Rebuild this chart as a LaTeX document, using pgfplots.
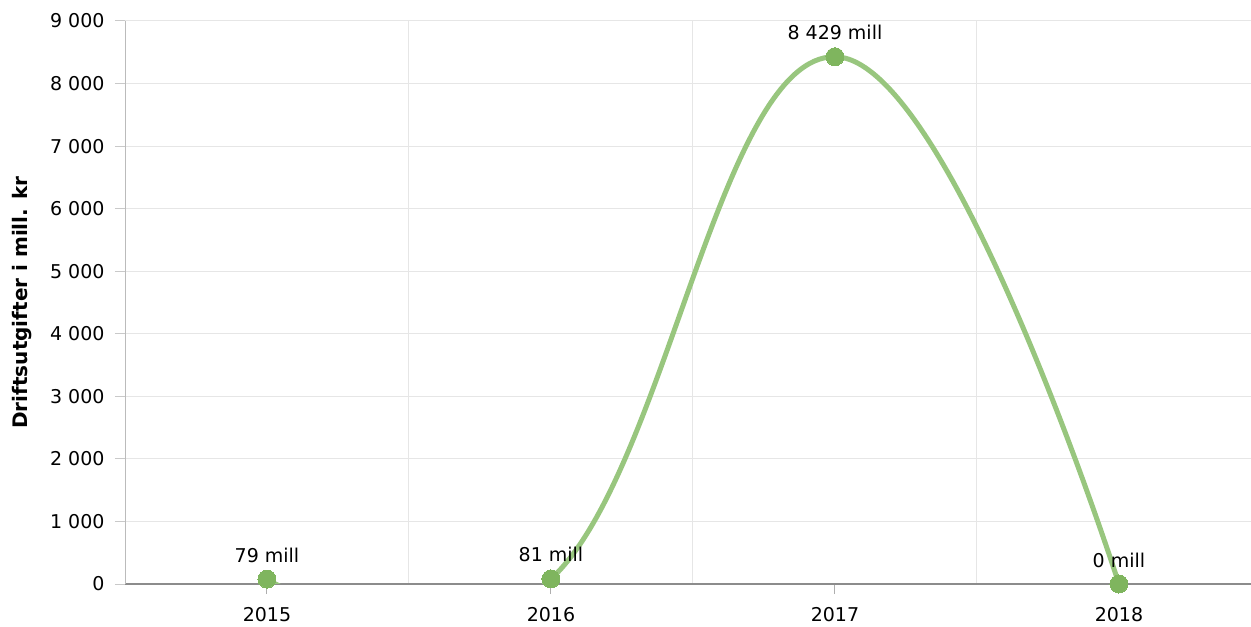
\documentclass[border=0pt]{standalone}
\usepackage{pgfplots}
\pgfplotsset{compat=1.18}
\usepackage{fontspec}
\setmainfont{DejaVu Sans}
\definecolor{linegreen}{HTML}{98C67E}
\definecolor{markgreen}{HTML}{7FB55E}
\definecolor{gridgray}{HTML}{E6E6E6}
\definecolor{yaxisgray}{HTML}{BBBBBB}
\definecolor{xaxisgray}{HTML}{8C8C8C}
\begin{document}
\fontsize{19bp}{23bp}\selectfont
\begin{tikzpicture}
\useasboundingbox (0,0) rectangle (1251bp,627bp);
\begin{axis}[
  at={(125bp,43bp)}, anchor=south west,
  scale only axis, width=1126bp, height=563bp,
  xmin=-0.5, xmax=3.465, ymin=0, ymax=9000,
  axis lines=left, axis line style={-},
  x axis line style={draw=xaxisgray, line width=1.2bp},
  y axis line style={draw=yaxisgray, line width=1bp},
  xtick={0,1,2,3}, xticklabels={2015,2016,2017,2018},
  minor xtick={0.5,1.5,2.5}, xminorgrids=true,
  minor grid style={gridgray, line width=1bp},
  ytick={0,1000,...,9000}, ymajorgrids=true,
  major grid style={gridgray, line width=1bp},
  tick align=outside, major tick length=10bp, minor tick length=0pt,
  x tick style={xaxisgray!70, line width=1bp},
  y tick style={yaxisgray!80, line width=1bp},
  /pgf/number format/1000 sep={\ },
  /pgf/number format/assume math mode=true,
  yticklabel style={text=black, xshift=-4bp},
  xticklabel style={text=black, yshift=-7bp},
  every axis y label/.style={at={(axis description cs:-0.0915,0.5)}, rotate=90, anchor=center, font=\bfseries\fontsize{20bp}{24bp}\selectfont},
  ylabel={Driftsutgifter i mill. kr},
  clip mode=individual,
]
\addplot[linegreen, line width=5bp, smooth, tension=0.73,
  mark=*, mark size=9bp, mark options={solid, fill=markgreen, draw=markgreen, line width=0pt},
  nodes near coords, point meta=explicit symbolic,
  every node near coord/.style={text=black, anchor=base, yshift=17bp}]
  coordinates {(0,79) [79 mill] (1,81) [81 mill] (2,8429) [8 429 mill] (3,0) [0 mill]};
\end{axis}
\end{tikzpicture}
\end{document}
